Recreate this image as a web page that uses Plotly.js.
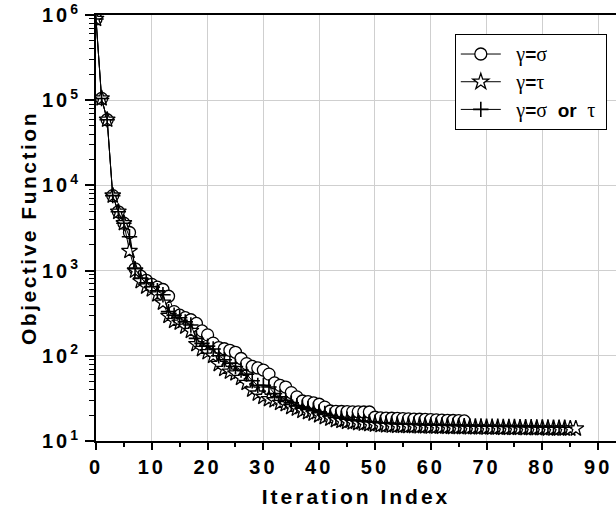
<!DOCTYPE html>
<html>
<head>
<meta charset="utf-8">
<script src="https://cdn.plot.ly/plotly-3.0.1.min.js"></script>
<style>html,body{margin:0;padding:0;background:#fff}#chart{width:616px;height:516px}</style>
</head>
<body>
<div id="chart"></div>
<script>
// gamma = sigma (circles), iterations 0..66
var circleVals = [9.0e5, 1.05e5, 5.9e4, 7.6e3, 4.9e3, 3.6e3, 2.8e3, 1.05e3, 860, 770,
  690, 640, 600, 500, 330, 300, 280, 265, 240, 196,
  176, 141, 125, 121, 116, 110, 93, 81, 75, 72,
  68, 61, 48, 45, 43, 37, 33, 29.5, 29, 28,
  27, 25, 22.5, 22.3, 22.2, 22.1, 22, 22, 21.9, 21.9,
  19, 18.7, 18.6, 18.5, 18.4, 18.3, 18.2, 18.1, 18.0, 17.9,
  17.8, 17.7, 17.6, 17.5, 17.4, 17.3, 17.2];
// gamma = tau (stars), iterations 0..86
var starVals = [9.0e5, 1.05e5, 5.9e4, 7.6e3, 4.9e3, 3.6e3, 1.7e3, 1.0e3, 750, 650,
  600, 525, 420, 294, 257, 245, 220, 196, 137, 120,
  110, 100, 80, 70, 65, 62, 55, 48, 40, 36,
  33, 31, 30, 28, 27, 25, 24, 22.6, 21.8, 21,
  20, 19, 18.3, 17.6, 17.2, 16.8, 16.5, 16.2, 16, 15.8,
  15.6, 15.3, 15.2, 15.1, 15.0, 15.0, 14.9, 14.9, 14.8, 14.8,
  14.7, 14.7, 14.6, 14.6, 14.5, 14.5, 14.5, 14.4, 14.4, 14.4,
  14.3, 14.3, 14.3, 14.2, 14.2, 14.2, 14.2, 14.1, 14.1, 14.1,
  14.1, 14.0, 14.0, 14.0, 14.0, 14.0, 14.0];
// gamma = sigma or tau (crosses), iterations 0..84
var plusVals = [9.0e5, 1.05e5, 5.9e4, 7.6e3, 4.9e3, 3.6e3, 2.5e3, 1.05e3, 820, 720,
  650, 580, 520, 330, 300, 280, 250, 230, 160, 140,
  130, 120, 100, 90, 82, 75, 68, 61, 51, 45,
  45, 43, 36, 33, 30, 28, 26, 25, 24, 23,
  22, 21, 20, 19, 18.5, 18, 17.6, 17.3, 17, 16.8,
  16.6, 16.4, 16.2, 16.0, 15.9, 15.8, 15.7, 15.6, 15.5, 15.4,
  15.4, 15.3, 15.3, 15.2, 15.2, 15.1, 15.1, 15.0, 15.0, 15.0,
  14.9, 14.9, 14.9, 14.8, 14.8, 14.8, 14.7, 14.7, 14.7, 14.6,
  14.6, 14.6, 14.5, 14.5, 14.5];
var seriesNames = ['γ=σ', 'γ=τ', 'γ=σ or τ'];
var xTickVals = [0, 10, 20, 30, 40, 50, 60, 70, 80, 90];
var xTickText = ['0', '10', '20', '30', '40', '50', '60', '70', '80', '90'];
var yTickVals = [10, 100, 1000, 10000, 100000, 1000000];
var yTickText = ['10<sup>1</sup>', '10<sup>2</sup>', '10<sup>3</sup>', '10<sup>4</sup>', '10<sup>5</sup>', '10<sup>6</sup>'];

function idx(a){ return a.map(function(_, i){ return i; }); }
function sp(t, s){ return '<span style="letter-spacing:' + (s || 3) + 'px">' + t + '</span>'; }
var G = '<span style="font-family:\'Liberation Serif\',serif;font-size:20px">';
function legendName(n){
  var parts = n.split(' or ');
  function one(s){
    return s.split('').map(function(ch){
      if (ch === '=') return '<b>=</b>';
      return G + ch + '</span>';
    }).join('');
  }
  return '  ' + parts.map(one).join('  <b>or</b>  ') + ' ';
}

var lineStyle = {color: '#000', width: 1};
var traces = [
  {x: idx(circleVals), y: circleVals, name: legendName(seriesNames[0]), mode: 'lines+markers', legendgroup: 'a',
   line: lineStyle, marker: {symbol: 'circle', size: 12, color: '#fff', line: {color: '#000', width: 1.3}}},
  {x: idx(starVals), y: starVals, name: legendName(seriesNames[1]), mode: 'lines+markers', legendgroup: 'b',
   line: lineStyle, marker: {symbol: 'star', size: 12, color: '#fff', line: {color: '#000', width: 1.3}}},
  {x: idx(plusVals), y: plusVals, name: legendName(seriesNames[2]), mode: 'lines+markers', legendgroup: 'c',
   line: lineStyle, marker: {symbol: 'cross-thin-open', size: 11, color: '#000', line: {color: '#000', width: 1.6}}}
];

var layout = {
  width: 616, height: 516,
  margin: {l: 96, r: 0, t: 15, b: 75},
  paper_bgcolor: '#fff', plot_bgcolor: '#fff',
  showlegend: true,
  legend: {x: 0.69, y: 0.955, xanchor: 'left', yanchor: 'top', bgcolor: '#fff',
    bordercolor: '#000', borderwidth: 1, tracegroupgap: 0, itemwidth: 40,
    font: {family: 'Arial, Liberation Sans, sans-serif', size: 19, color: '#000'}},
  xaxis: {
    range: [0, 93.2], showline: true, linecolor: '#000', linewidth: 2, mirror: true,
    tickvals: xTickVals, ticktext: xTickText.map(function(t){ return sp(t); }),
    ticks: 'outside', ticklen: 7, tickwidth: 1.5, tickcolor: '#000', ticklabeloverflow: 'allow',
    minor: {dtick: 5, tick0: 0, ticks: 'outside', ticklen: 4, tickwidth: 1.5, tickcolor: '#000', showgrid: false},
    showgrid: true, gridcolor: '#cfcfcf', gridwidth: 1, zeroline: false,
    tickfont: {family: 'Arial, Liberation Sans, sans-serif', size: 20, color: '#000', weight: 'bold'},
    title: {text: sp('Iteration Index'), standoff: 12,
      font: {family: 'Arial, Liberation Sans, sans-serif', size: 21, color: '#000', weight: 'bold'}}
  },
  yaxis: {
    type: 'log', range: [1, 6.0005], showline: true, linecolor: '#000', linewidth: 2, mirror: false,
    tickvals: yTickVals, ticktext: yTickText.map(function(t){ return sp(t); }),
    ticks: 'outside', ticklen: 9, tickwidth: 1.5, tickcolor: '#000', ticklabeloverflow: 'allow',
    minor: {dtick: 'D1', ticks: 'outside', ticklen: 5, tickwidth: 1.2, tickcolor: '#000', showgrid: false},
    showgrid: true, gridcolor: '#cfcfcf', gridwidth: 1, zeroline: false,
    tickfont: {family: 'Arial, Liberation Sans, sans-serif', size: 20, color: '#000', weight: 'bold'},
    title: {text: sp('Objective Function', 2.5), standoff: 0,
      font: {family: 'Arial, Liberation Sans, sans-serif', size: 21, color: '#000', weight: 'bold'}}
  }
};

Plotly.newPlot('chart', traces, layout, {displayModeBar: false, responsive: false});
</script>
</body>
</html>
